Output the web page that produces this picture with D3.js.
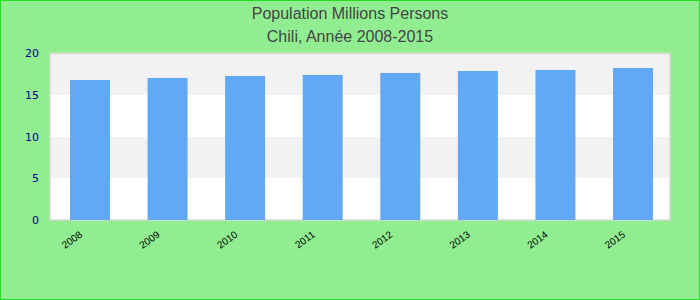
<!DOCTYPE html>
<html>
<head>
<meta charset="utf-8">
<script src="https://cdn.jsdelivr.net/npm/d3@7"></script>
<style>
  body { margin: 0; }
  svg { display: block; }
</style>
</head>
<body>
<svg></svg>
<script>
const years = ["2008", "2009", "2010", "2011", "2012", "2013", "2014", "2015"];
const population = [16.8, 17.04, 17.28, 17.4, 17.64, 17.88, 18.0, 18.24];
const yTicks = [0, 5, 10, 15, 20];
const title = "Population Millions Persons";
const subtitle = "Chili, Année 2008-2015";

const W = 700, H = 300;
const plot = { left: 50, right: 670, top: 53.3, bottom: 220 };

const svg = d3.select("svg").attr("width", W).attr("height", H);

svg.append("rect")
    .attr("x", 0.5).attr("y", 0.5)
    .attr("width", W - 1).attr("height", H - 1)
    .attr("fill", "#90ee90")
    .attr("stroke", "#22dd22")
    .attr("stroke-width", 1);

svg.append("text")
    .attr("x", W / 2).attr("y", 19)
    .attr("text-anchor", "middle")
    .style("font-family", "Liberation Sans, Arial, sans-serif")
    .style("font-size", "16px")
    .attr("fill", "#444")
    .text(title);

svg.append("text")
    .attr("x", W / 2).attr("y", 42)
    .attr("text-anchor", "middle")
    .style("font-family", "Liberation Sans, Arial, sans-serif")
    .style("font-size", "16px")
    .attr("fill", "#444")
    .text(subtitle);

const y = d3.scaleLinear().domain([0, 20]).range([plot.bottom, plot.top]);
const x = d3.scaleBand().domain(years).range([51, 672])
    .paddingInner(0.485).paddingOuter(0.245);

// alternating background stripes
const stripes = d3.pairs(yTicks);
svg.append("g").selectAll("rect")
    .data(stripes)
    .join("rect")
    .attr("x", plot.left)
    .attr("width", plot.right - plot.left)
    .attr("y", d => Math.round(y(d[1])))
    .attr("height", d => Math.round(y(d[0])) - Math.round(y(d[1])))
    .attr("fill", (d, i) => i % 2 === 0 ? "#ffffff" : "#f2f2f2")
    .attr("shape-rendering", "crispEdges");

svg.append("rect")
    .attr("x", plot.left).attr("y", plot.top)
    .attr("width", plot.right - plot.left)
    .attr("height", plot.bottom - plot.top)
    .attr("fill", "none")
    .attr("stroke", "#d8d8d8")
    .attr("stroke-width", 1.5);

svg.append("g").selectAll("rect")
    .data(population)
    .join("rect")
    .attr("x", (d, i) => x(years[i]))
    .attr("width", x.bandwidth())
    .attr("y", d => y(d))
    .attr("height", d => y(0) - y(d))
    .attr("fill", "#61a8f5");

// y axis
const yAxis = svg.append("g")
    .attr("transform", `translate(${plot.left}, 0)`)
    .call(d3.axisLeft(y).tickValues(yTicks).tickSize(0).tickPadding(11));
yAxis.select(".domain").remove();
yAxis.selectAll("text")
    .style("font-family", "DejaVu Sans, sans-serif")
    .style("font-size", "11px")
    .attr("fill", "#00008b");

// x axis, labels slanted
const xAxis = svg.append("g")
    .attr("transform", `translate(0, ${plot.bottom})`)
    .call(d3.axisBottom(x).tickSize(0));
xAxis.select(".domain").remove();
xAxis.selectAll("text")
    .style("font-family", "Liberation Sans, Arial, sans-serif")
    .style("font-size", "10px")
    .attr("fill", "#000")
    .attr("text-anchor", "end")
    .attr("dy", null)
    .attr("y", 0)
    .attr("transform", "translate(-7, 16) rotate(-36)");
</script>
</body>
</html>
